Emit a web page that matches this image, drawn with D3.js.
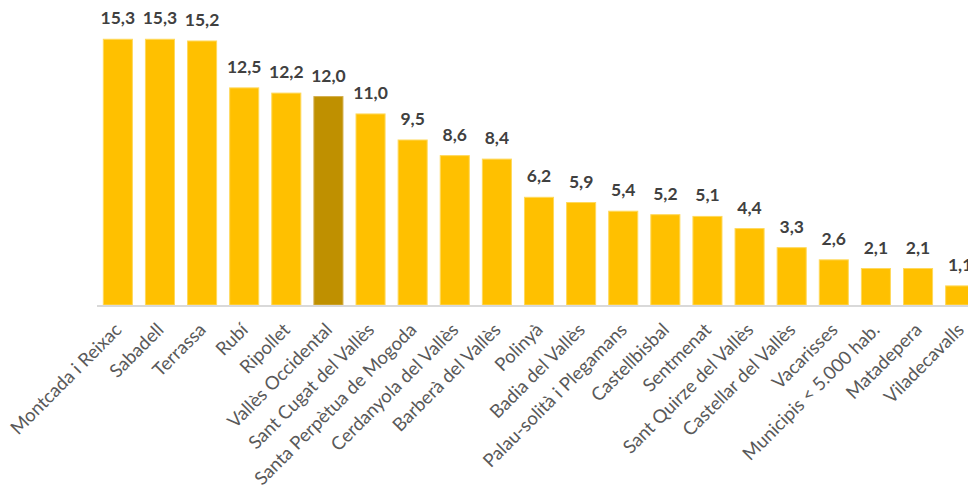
<!DOCTYPE html>
<html>
<head>
<meta charset="utf-8">
<script src="https://cdn.jsdelivr.net/npm/d3@7"></script>
<style>
  body { margin: 0; background: #fff; }
  svg { display: block; font-family: Lato, "Noto Sans", sans-serif; }
</style>
</head>
<body>
<svg id="chart" width="968" height="488"></svg>
<script>
const municipis = [
  "Montcada i Reixac", "Sabadell", "Terrassa", "Rubí", "Ripollet",
  "Vallès Occidental", "Sant Cugat del Vallès", "Santa Perpètua de Mogoda",
  "Cerdanyola del Vallès", "Barberà del Vallès", "Polinyà", "Badia del Vallès",
  "Palau-solità i Plegamans", "Castellbisbal", "Sentmenat", "Sant Quirze del Vallès",
  "Castellar del Vallès", "Vacarisses", "Municipis < 5.000 hab.", "Matadepera", "Viladecavalls"
]
const valors = [15.3, 15.3, 15.2, 12.5, 12.2, 12.0, 11.0, 9.5, 8.6, 8.4, 6.2, 5.9, 5.4, 5.2, 5.1, 4.4, 3.3, 2.6, 2.1, 2.1, 1.1]
const destacat = "Vallès Occidental"

const data = municipis.map((name, i) => ({ name, value: valors[i] }))

const svg = d3.select("#chart")
const baseline = 305

const x = d3.scaleBand()
  .domain(municipis)
  .range([97, 981])
  .paddingInner(0.31)
  .paddingOuter(0.15)

const y = d3.scaleLinear()
  .domain([0, 17.56])
  .range([baseline, 0])

const fmt = d => d3.format(".1f")(d).replace(".", ",")

// bars
svg.append("g")
  .selectAll("rect")
  .data(data)
  .enter()
  .append("rect")
  .attr("x", d => x(d.name))
  .attr("y", d => y(d.value))
  .attr("width", x.bandwidth())
  .attr("height", d => baseline - y(d.value))
  .attr("fill", d => d.name === destacat ? "#BF9000" : "#FFC000")
  .attr("stroke", d => d.name === destacat ? "#D4AE4C" : "#FFD95C")
  .attr("stroke-width", 1)

// axis line
svg.append("line")
  .attr("x1", 97)
  .attr("x2", 981)
  .attr("y1", baseline + 1)
  .attr("y2", baseline + 1)
  .attr("stroke", "#D9D9D9")
  .attr("stroke-width", 2)

// value labels
svg.append("g")
  .selectAll("text")
  .data(data)
  .enter()
  .append("text")
  .attr("x", d => x(d.name) + x.bandwidth() / 2)
  .attr("y", d => y(d.value) - 15)
  .attr("text-anchor", "middle")
  .attr("font-size", 17.5)
  .attr("font-weight", "bold")
  .attr("fill", "#404040")
  .text(d => fmt(d.value))

// category labels
svg.append("g")
  .selectAll("text")
  .data(data)
  .enter()
  .append("text")
  .attr("transform", d => `translate(${x(d.name) + x.bandwidth() / 2 + 5},${baseline + 26}) rotate(-45)`)
  .attr("text-anchor", "end")
  .attr("font-size", 18.5)
  .attr("fill", "#595959")
  .text(d => d.name)
</script>
</body>
</html>
